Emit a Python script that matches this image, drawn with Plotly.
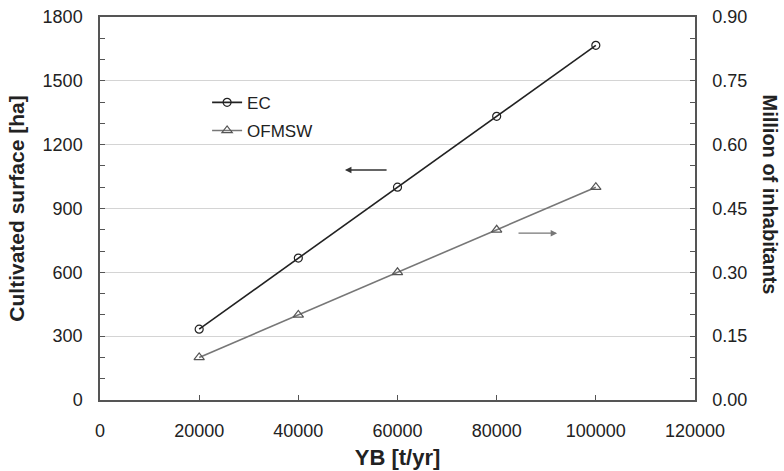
import plotly.graph_objects as go

yb = [20000, 40000, 60000, 80000, 100000]
ec_ha = [333, 667, 1000, 1333, 1667]
ofmsw_mil = [0.10, 0.20, 0.30, 0.40, 0.50]

x_ticks = [0, 20000, 40000, 60000, 80000, 100000, 120000]
left_ticks = [0, 300, 600, 900, 1200, 1500, 1800]
right_ticks = [0.0, 0.15, 0.30, 0.45, 0.60, 0.75, 0.90]

FONT = "Liberation Sans, Arial, sans-serif"
AX = "#555555"

fig = go.Figure()
fig.add_trace(go.Scatter(
    x=yb, y=ec_ha, name="EC", mode="lines+markers", legendgroup="a",
    line=dict(color="#222222", width=1.6),
    marker=dict(symbol="circle-open", size=8, color="#222222", line=dict(width=1.2)),
))
fig.add_trace(go.Scatter(
    x=yb, y=ofmsw_mil, name="OFMSW", mode="lines+markers", yaxis="y2", legendgroup="b",
    line=dict(color="#777777", width=1.6),
    marker=dict(symbol="triangle-up-open", size=9, color="#555555", line=dict(width=1.2)),
))

fig.update_layout(
    width=784, height=471,
    margin=dict(l=100, r=89, t=17, b=71, autoexpand=False),
    paper_bgcolor="white", plot_bgcolor="white",
    font=dict(family=FONT, size=18, color="#222222"),
    showlegend=True,
    legend=dict(x=0.18, y=0.823, xanchor="left", yanchor="top",
                bgcolor="rgba(0,0,0,0)", font=dict(size=17),
                itemwidth=30, tracegroupgap=3),
    xaxis=dict(
        range=[0, 120000], tickvals=x_ticks, ticktext=[str(v) for v in x_ticks],
        showline=True, linecolor=AX, linewidth=1.5, mirror=True,
        ticks="inside", ticklen=5, tickcolor=AX, showgrid=False, zeroline=False,
        ticklabelstandoff=14, automargin=False,
        title=dict(text="<b>YB [t/yr]</b>", font=dict(size=22), standoff=9),
    ),
    yaxis=dict(
        range=[0, 1800], tickvals=left_ticks,
        showline=True, linecolor=AX, linewidth=1.5,
        ticks="inside", ticklen=5, tickcolor=AX,
        minor=dict(ticks="inside", dtick=100, ticklen=5, tickcolor=AX, showgrid=False),
        showgrid=True, gridcolor="#d4d4d4", gridwidth=1, zeroline=False,
        ticklabelstandoff=12, automargin=False,
        title=dict(text="<b>Cultivated surface [ha]</b>", font=dict(size=21), standoff=12),
    ),
    yaxis2=dict(
        range=[0, 0.9], tickvals=right_ticks, tickformat=".2f",
        overlaying="y", side="right",
        showline=True, linecolor=AX, linewidth=1.5,
        ticks="inside", ticklen=5, tickcolor=AX,
        minor=dict(ticks="inside", dtick=0.05, ticklen=5, tickcolor=AX, showgrid=False),
        showgrid=False, zeroline=False, ticklabelstandoff=12, automargin=False,
    ),
    annotations=[
        dict(text="<b>Million of inhabitants</b>", textangle=90, font=dict(size=20),
             xref="paper", yref="paper", x=1.0, y=0.5, xshift=75, yshift=14,
             xanchor="center", yanchor="middle", showarrow=False),
        dict(x=49400, y=1081, ax=58100, ay=1081, xref="x", yref="y", axref="x", ayref="y",
             showarrow=True, arrowhead=2, arrowsize=1, arrowwidth=1.3, arrowcolor="#333333", text=""),
        dict(x=92200, y=0.392, ax=84100, ay=0.392, xref="x", yref="y2", axref="x", ayref="y2",
             showarrow=True, arrowhead=2, arrowsize=1, arrowwidth=1.3, arrowcolor="#777777", text=""),
    ],
)

fig.write_html("out.html")
